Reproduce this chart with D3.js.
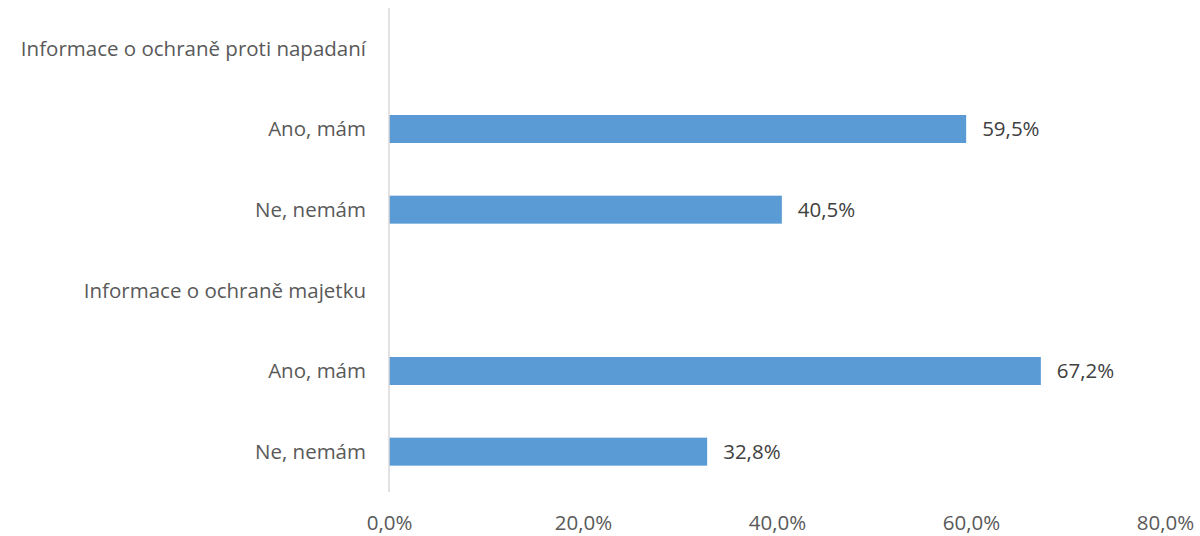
<!DOCTYPE html>
<html>
<head>
<meta charset="utf-8">
<script src="https://cdn.jsdelivr.net/npm/d3@7"></script>
<style>
  body { margin: 0; background: #fff; }
  text { font-family: "Open Sans", sans-serif; }
</style>
</head>
<body>
<div id="vis"></div>
<script>
'use strict';

// Row labels, top to bottom (group headings have no value)
const categories = [
    "Informace o ochraně proti napadaní",
    "Ano, mám",
    "Ne, nemám",
    "Informace o ochraně majetku",
    "Ano, mám",
    "Ne, nemám"
];
const values = [null, 59.5, 40.5, null, 67.2, 32.8];
const xTicks = [0, 20, 40, 60, 80];

const constraints = {
    width: 1200,
    height: 536,
    plot: {left: 389, right: 1165, top: 8, bottom: 492},
    fontSize: "20.5px"
};

const svg = d3.select("#vis").append("svg")
    .attr("width", constraints.width)
    .attr("height", constraints.height);

const rows = categories.map((c, i) => ({key: i, label: c, value: values[i]}));

const x = d3.scaleLinear()
    .domain([0, 80])
    .range([constraints.plot.left, constraints.plot.right]);

const y = d3.scaleBand()
    .domain(rows.map(d => d.key))
    .range([constraints.plot.top, constraints.plot.bottom])
    .paddingInner(0.653)
    .paddingOuter(0.3265);

const fmt = v => v.toFixed(1).replace(".", ",") + "%";

// Bars
svg.append("g")
    .selectAll("rect")
    .data(rows.filter(d => d.value != null))
    .enter()
    .append("rect")
        .attr("x", x(0))
        .attr("y", d => y(d.key))
        .attr("width", d => x(d.value) - x(0))
        .attr("height", y.bandwidth())
        .attr("fill", "#5b9bd5");

// Vertical axis line
svg.append("line")
    .attr("x1", x(0)).attr("x2", x(0))
    .attr("y1", constraints.plot.top).attr("y2", constraints.plot.bottom)
    .attr("stroke", "#d9d9d9")
    .attr("stroke-width", 1.5);

// Category labels
svg.append("g")
    .selectAll("text")
    .data(rows)
    .enter()
    .append("text")
        .attr("x", x(0) - 23)
        .attr("y", d => y(d.key) + y.bandwidth() / 2)
        .attr("dy", "0.35em")
        .attr("text-anchor", "end")
        .attr("fill", "#595959")
        .style("font-size", constraints.fontSize)
        .text(d => d.label);

// Value labels
svg.append("g")
    .selectAll("text")
    .data(rows.filter(d => d.value != null))
    .enter()
    .append("text")
        .attr("x", d => x(d.value) + 16)
        .attr("y", d => y(d.key) + y.bandwidth() / 2)
        .attr("dy", "0.35em")
        .attr("fill", "#404040")
        .style("font-size", constraints.fontSize)
        .text(d => fmt(d.value));

// X axis tick labels
const xAxis = svg.append("g")
    .attr("transform", "translate(0," + constraints.plot.bottom + ")")
    .call(d3.axisBottom(x).tickValues(xTicks).tickFormat(fmt).tickSize(0).tickPadding(23));
xAxis.select(".domain").remove();
xAxis.selectAll("text")
    .attr("fill", "#595959")
    .style("font-size", constraints.fontSize)
    .style("font-family", "'Open Sans', sans-serif");
</script>
</body>
</html>
